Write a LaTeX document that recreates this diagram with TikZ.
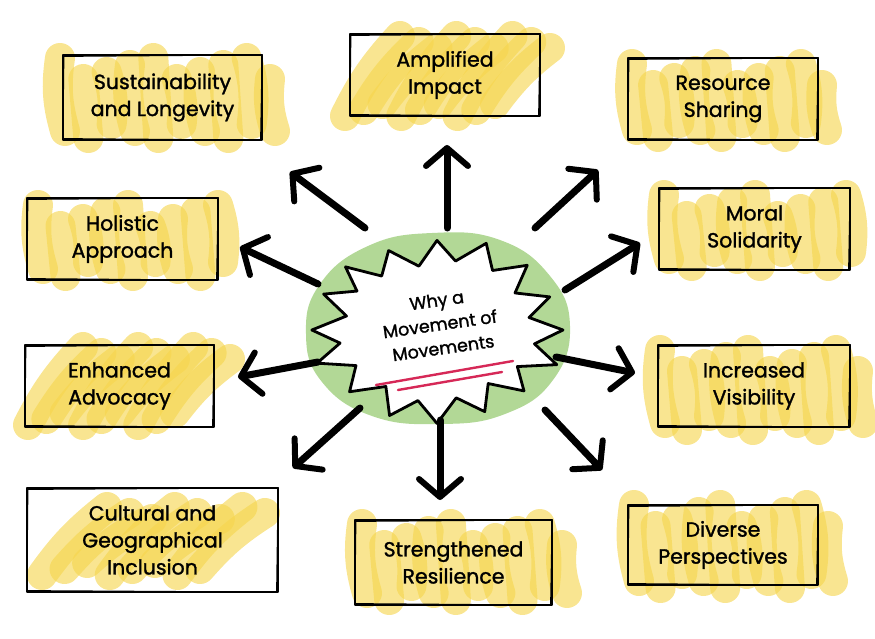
\documentclass[tikz,border=0pt]{standalone}
\usepackage{fontspec}
\setmainfont{Poppins}[FakeBold=1.4]
\usetikzlibrary{arrows.meta}
\definecolor{hlc}{RGB}{245,213,77}
\definecolor{blobc}{RGB}{178,216,150}
\definecolor{redl}{RGB}{214,40,87}
\tikzset{
 hl/.style={draw=hlc, line width=30pt, line cap=round, opacity=0.62},
 boxnode/.style={draw, line width=2.4pt, align=center, font=\fontsize{20.5}{27}\selectfont, inner sep=0pt, line join=round},
 sk/.style={line width=1.2pt, line cap=round, line join=round},
 arr/.style={line width=7pt, line cap=round, -{Straight Barb[length=18pt,width=42pt,line width=6pt,round]}},
 burst/.style={draw, fill=white, line width=2.8pt, line join=round},
 uline/.style={draw=redl, line width=2.4pt, line cap=round},
}
\newcommand\hlv[5]{%
 \foreach \k in {0,...,#5}{%
   \pgfmathsetmacro\xx{#1+(#3-#1)*\k/#5}%
   \pgfmathsetmacro\ya{#2+7*mod(\k*3,4)}%
   \pgfmathsetmacro\yb{#4-7*mod(\k*2+1,3)}%
   \pgfmathsetmacro\bb{12*mod(\k,3)-12}%
   \draw[hl] (\xx,\ya) to[bend left=\bb] (\xx+5,\yb);
 }}
\newcommand\hld[6]{% x1 x2 ybottom ytop dx n
 \foreach \k in {0,...,#6}{%
   \pgfmathsetmacro\xx{#1+(#2-#1)*\k/#6}%
   \pgfmathsetmacro\yo{6*mod(\k,3)}%
   \draw[hl] (\xx,#3-\yo) to[bend left=8] (\xx+#5,#4+\yo);
 }}
\newcommand\skbox[6]{%
  \node[boxnode, minimum width=#4pt, minimum height=#5pt] (#1) at (#2,#3) {#6};
  \draw[sk] ([shift={(2,2.5)}]#1.north west) -- ([shift={(-1,1)}]#1.north east) -- ([shift={(-2.5,-1)}]#1.south east) -- ([shift={(1,-2.5)}]#1.south west) -- cycle;
}
\begin{document}
\begin{tikzpicture}[x=1pt,y=-1pt]
\useasboundingbox (0,0) rectangle (875,639);
% highlights
\hlv{60}{58}{270}{138}{9}
\hld{345}{495}{116}{36}{55}{8}
\hlv{632}{64}{822}{137}{9}
\hlv{38}{205}{218}{276}{8}
\hlv{664}{195}{846}{266}{8}
\hld{28}{175}{425}{347}{55}{8}
\hlv{660}{350}{858}{430}{9}
\hld{42}{200}{575}{507}{65}{7}
\hlv{362}{524}{562}{600}{9}
\hlv{634}{505}{828}{588}{9}
% boxes
\skbox{sus}{162.5}{97.5}{199}{85}{Sustainability\\and Longevity}
\skbox{amp}{445}{75}{190}{82}{Amplified\\Impact}
\skbox{res}{723}{99}{190}{82}{Resource\\Sharing}
\skbox{hol}{122.5}{239}{191}{82}{Holistic\\Approach}
\skbox{mor}{754.5}{229}{191}{82}{Moral\\Solidarity}
\skbox{enh}{119.5}{386}{189}{82}{Enhanced\\Advocacy}
\skbox{inc}{754}{386}{192}{82}{Increased\\Visibility}
\skbox{cul}{152.5}{540}{251}{104}{Cultural and\\Geographical\\Inclusion}
\skbox{str}{453.5}{562.5}{197}{85}{Strengthened\\Resilience}
\skbox{div}{723}{545}{190}{80}{Diverse\\Perspectives}
% center blob
\fill[blobc] plot[smooth cycle, tension=0.75] coordinates {(570,326) (553,380) (505,414) (440,424) (372,416) (322,382) (306,334) (320,284) (368,246) (432,233) (500,240) (550,276)};
\draw[burst] ({437+126},330) \foreach \i in {1,...,31}{ -- ({437+cos(\i*11.25)*(126-30*mod(\i,2)+4*sin(\i*57))},{330+sin(\i*11.25)*(90-22*mod(\i,2)+4*cos(\i*41))}) } -- cycle;
\node[rotate=8, align=center, font=\fontsize{17.5}{24}\selectfont] (ctr) at (440,324) {Why a\\Movement of\\Movements};
\draw[uline] (376,385) -- (513,361);
\draw[uline] (398,390) -- (502,372);
% arrows
\coordinate (t1) at (365,228); \coordinate (h1) at (290,172);
\coordinate (t2) at (447,228); \coordinate (h2) at (447,145);
\coordinate (t3) at (535,228); \coordinate (h3) at (598,170);
\coordinate (t4) at (318,284); \coordinate (h4) at (240,247);
\coordinate (t5) at (565,290); \coordinate (h5) at (640,243);
\coordinate (t6) at (318,362); \coordinate (h6) at (238,377);
\coordinate (t7) at (556,357); \coordinate (h7) at (635,373);
\coordinate (t8) at (360,408); \coordinate (h8) at (293,468);
\coordinate (t9) at (440,420); \coordinate (h9) at (440,500);
\coordinate (t10) at (545,410); \coordinate (h10) at (602,470);
\foreach \n in {1,...,10}{\draw[arr] (t\n) -- (h\n);}
\end{tikzpicture}
\end{document}
